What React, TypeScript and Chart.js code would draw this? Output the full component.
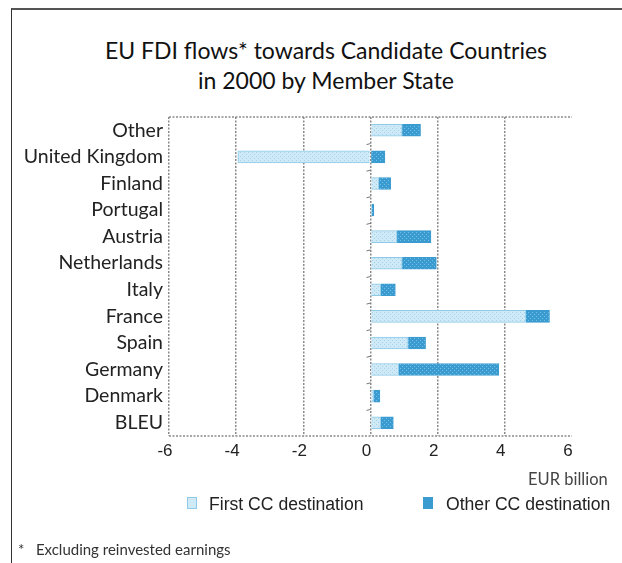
import React, { useEffect, useRef } from "react";
import { Chart, registerables } from "chart.js";

Chart.register(...registerables);

const categories = [
  "Other",
  "United Kingdom",
  "Finland",
  "Portugal",
  "Austria",
  "Netherlands",
  "Italy",
  "France",
  "Spain",
  "Germany",
  "Denmark",
  "BLEU",
];
const firstCC = [0.94, -3.95, 0.25, 0.03, 0.79, 0.94, 0.3, 4.63, 1.12, 0.84, 0.1, 0.3];
const otherCC = [0.55, 0.43, 0.35, 0.07, 1.01, 1.02, 0.44, 0.7, 0.52, 2.98, 0.18, 0.38];
const xTicks = [-6, -4, -2, 0, 2, 4, 6];
const seriesNames = ["First CC destination", "Other CC destination"];

function makePattern(base: string, dot: string) {
  const c = document.createElement("canvas");
  c.width = 4;
  c.height = 4;
  const g = c.getContext("2d")!;
  g.fillStyle = base;
  g.fillRect(0, 0, 4, 4);
  g.fillStyle = dot;
  g.fillRect(0, 0, 1, 1);
  g.fillRect(2, 2, 1, 1);
  return g.createPattern(c, "repeat")!;
}

const framePlugin = {
  id: "framePlugin",
  afterDatasetsDraw(chart: any) {
    const { ctx, chartArea } = chart;
    const xs = chart.scales.x;
    ctx.save();
    ctx.strokeStyle = "#8a8a8a";
    ctx.lineWidth = 1.5;
    ctx.setLineDash([2, 1.5]);
    ctx.beginPath();
    ctx.moveTo(chartArea.left, chartArea.top);
    ctx.lineTo(chartArea.right, chartArea.top);
    ctx.moveTo(chartArea.left, chartArea.bottom);
    ctx.lineTo(chartArea.right, chartArea.bottom);
    ctx.stroke();
    ctx.setLineDash([]);
    ctx.lineWidth = 1;
    ctx.strokeStyle = "#777";
    const x0 = xs.getPixelForValue(0);
    const n = categories.length;
    const step = (chartArea.bottom - chartArea.top) / n;
    ctx.beginPath();
    for (let i = 1; i < n; i++) {
      const y = chartArea.top + i * step;
      ctx.moveTo(x0 - 4, y + 1);
      ctx.lineTo(x0, y);
    }
    ctx.stroke();
    ctx.restore();
  },
};

export default function App() {
  const ref = useRef<HTMLCanvasElement>(null);
  useEffect(() => {
    const canvas = ref.current!;
    const p1 = makePattern("#d0e9f6", "#a2d3ec");
    const p2 = makePattern("#3a9bd0", "#78bde3");
    const chart = new Chart(canvas, {
      type: "bar",
      data: {
        labels: categories,
        datasets: [
          {
            label: seriesNames[0],
            data: firstCC,
            backgroundColor: p1 as any,
            borderColor: "#8dcbe9",
            borderWidth: 1,
            barThickness: 12,
            stack: "s",
          },
          {
            label: seriesNames[1],
            data: otherCC,
            backgroundColor: p2 as any,
            borderColor: "#3a9bd0",
            borderWidth: 1,
            barThickness: 12,
            stack: "s",
          },
        ],
      },
      options: {
        indexAxis: "y",
        animation: false,
        responsive: false,
        devicePixelRatio: 1,
        layout: { padding: { left: 0, right: 50, top: 117, bottom: 97 } },
        plugins: {
          legend: { display: false },
          tooltip: { enabled: false },
          title: { display: false },
        },
        scales: {
          x: {
            type: "linear",
            min: -6,
            max: 6,
            afterBuildTicks: (s: any) => {
              s.ticks = xTicks.map((v) => ({ value: v }));
            },
            afterFit: (s: any) => {
              s.height = 30;
            },
            ticks: {
              color: "#222",
              font: { family: "'Liberation Sans', Arial, sans-serif", size: 17 },
              padding: 5,
              labelOffset: -4,
            },
            grid: {
              color: (c: any) => (c.tick && c.tick.value === 6 ? "rgba(0,0,0,0)" : "#8a8a8a"),
              lineWidth: 1.5,
              drawTicks: false,
            },
            border: { display: false, dash: [2, 1.5] },
          },
          y: {
            type: "category",
            stacked: true,
            afterFit: (s: any) => {
              s.width = 169;
            },
            ticks: {
              color: "#222",
              font: { family: "Lato, 'Open Sans', sans-serif", size: 19.5 },
              padding: 6,
              autoSkip: false,
            },
            grid: { display: false, drawTicks: false, tickLength: 0 },
            border: { display: false },
          },
        },
      },
      plugins: [framePlugin],
    } as any);
    return () => chart.destroy();
  }, []);

  const sans = "'Liberation Sans', Arial, sans-serif";
  return (
    <div style={{ position: "absolute", left: 0, top: 0, width: 622, height: 563, background: "#fff", overflow: "hidden" }}>
      <div style={{ position: "absolute", left: 11, top: 8, width: 700, height: 600, borderLeft: "1.5px solid #333", borderTop: "2px solid #555" }} />
      <div
        style={{
          position: "absolute",
          left: 0,
          top: 35,
          width: 652,
          textAlign: "center",
          fontFamily: "Lato, 'Open Sans', sans-serif",
          fontSize: 23,
          lineHeight: "30px",
          color: "#111",
        }}
      >
        EU FDI flows* towards Candidate Countries
        <br />
        in 2000 by Member State
      </div>
      <canvas ref={ref} width={622} height={563} style={{ position: "absolute", left: 0, top: 0 }} />
      <div style={{ position: "absolute", left: 528, top: 469, fontFamily: "Lato, sans-serif", fontSize: 16.5, color: "#444" }}>
        EUR billion
      </div>
      <div style={{ position: "absolute", left: 187, top: 497, width: 10, height: 12, background: "#cfe9f6", border: "1px solid #8dcbe9", boxSizing: "border-box" }} />
      <div style={{ position: "absolute", left: 209, top: 494, fontFamily: sans, fontSize: 17.6, color: "#222" }}>First CC destination</div>
      <div style={{ position: "absolute", left: 423, top: 497, width: 10, height: 12, background: "#3a9bd0" }} />
      <div style={{ position: "absolute", left: 446, top: 494, fontFamily: sans, fontSize: 17.6, color: "#222" }}>Other CC destination</div>
      <div style={{ position: "absolute", left: 18, top: 540, fontFamily: "Lato, sans-serif", fontSize: 15, color: "#333", whiteSpace: "pre" }}>
        {"*   Excluding reinvested earnings"}
      </div>
    </div>
  );
}
